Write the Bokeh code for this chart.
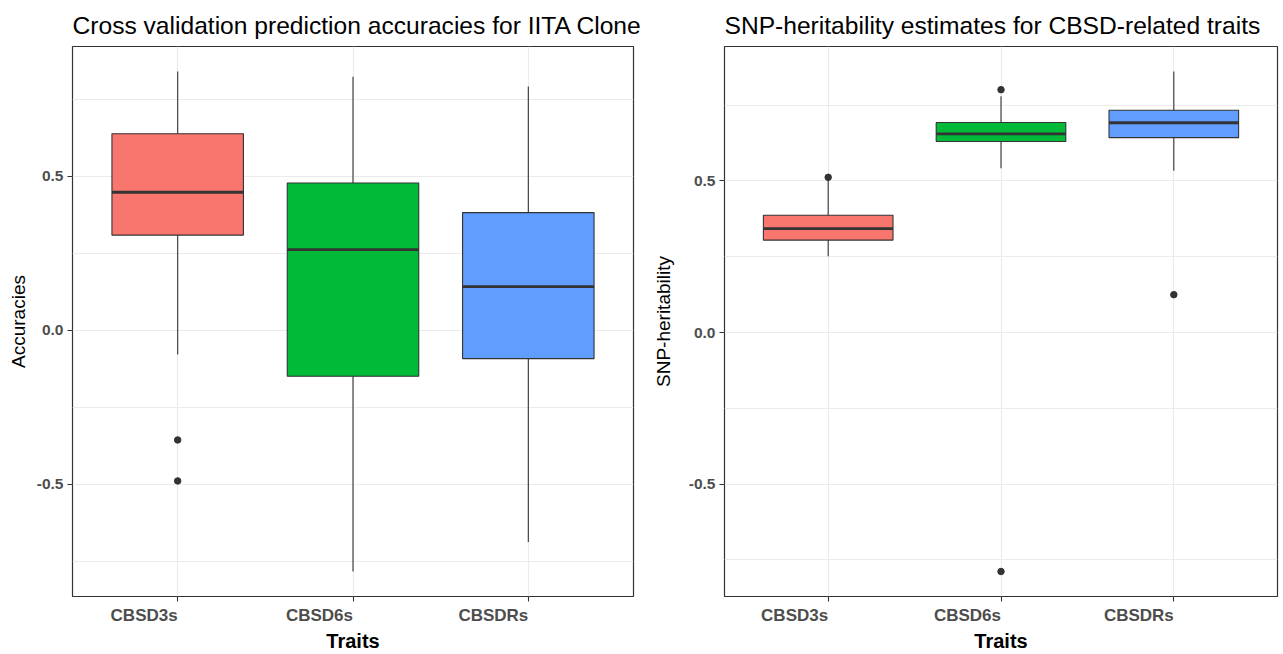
import numpy as np
from bokeh.plotting import figure
from bokeh.layouts import row
from bokeh.models import Range1d, FixedTicker, PrintfTickFormatter
from bokeh.embed import file_html
from bokeh.resources import INLINE

traits = ["CBSD3s", "CBSD6s", "CBSDRs"]
fills = ["#F8766D", "#00BA38", "#619CFF"]

# Cross-validation accuracies (box-plot summaries per trait)
acc_lower = [-0.079, -0.783, -0.687]
acc_q1 = [0.309, -0.149, -0.092]
acc_median = [0.448, 0.262, 0.142]
acc_q3 = [0.638, 0.478, 0.382]
acc_upper = [0.840, 0.823, 0.791]
acc_out_trait = ["CBSD3s", "CBSD3s"]
acc_out_value = [-0.356, -0.489]

# SNP-heritability estimates (box-plot summaries per trait)
h2_lower = [0.252, 0.542, 0.534]
h2_q1 = [0.305, 0.630, 0.643]
h2_median = [0.343, 0.655, 0.692]
h2_q3 = [0.387, 0.693, 0.733]
h2_upper = [0.503, 0.779, 0.861]
h2_out_trait = ["CBSD3s", "CBSD6s", "CBSD6s", "CBSDRs"]
h2_out_value = [0.512, 0.801, -0.788, 0.125]

y_ticks = [-0.5, 0.0, 0.5]
y_minor = [-0.75, -0.25, 0.25, 0.75]

FONT = "Liberation Sans"
INK = "#333333"
GRID = "#EBEBEB"
BOX_WIDTH = 0.75


def box_panel(title, ylabel, lower, q1, med, q3, upper, out_trait, out_value,
              width, border_left, border_right, label_gap):
    xs = np.arange(1, len(traits) + 1, dtype=float)
    lo = min(min(lower), min(out_value))
    hi = max(max(upper), max(out_value))
    pad = 0.05 * (hi - lo)

    p = figure(width=width, height=654,
               x_range=Range1d(0.4, len(traits) + 0.6),
               y_range=Range1d(lo - pad, hi + pad),
               output_backend="svg", toolbar_location=None,
               min_border_left=border_left, min_border_right=border_right,
               min_border_top=46, min_border_bottom=56)
    p.background_fill_color = "white"
    p.border_fill_color = "white"
    p.outline_line_color = INK
    p.outline_line_width = 1.2

    p.title.text = title
    p.title.text_font = FONT
    p.title.text_font_size = "24.6px"
    p.title.text_font_style = "normal"
    p.title.text_color = "black"
    p.title.align = "left"
    p.title.standoff = 15

    # grid
    p.xgrid.ticker = FixedTicker(ticks=list(xs))
    p.xgrid.grid_line_color = GRID
    p.xgrid.grid_line_width = 1.2
    p.ygrid.ticker = FixedTicker(ticks=y_ticks, minor_ticks=y_minor)
    p.ygrid.grid_line_color = GRID
    p.ygrid.grid_line_width = 1.2
    p.ygrid.minor_grid_line_color = GRID
    p.ygrid.minor_grid_line_width = 1.0

    # x axis: trait names end at their tick
    xa = p.xaxis[0]
    xa.ticker = FixedTicker(ticks=list(xs))
    xa.major_label_overrides = {int(x): t for x, t in zip(xs, traits)}
    xa.major_label_orientation = 0.0001
    xa.axis_label = "Traits"
    xa.axis_label_text_font = FONT
    xa.axis_label_text_font_size = "20px"
    xa.axis_label_text_font_style = "bold"
    xa.axis_label_text_color = "black"
    xa.axis_label_standoff = -8
    xa.major_label_text_font = FONT
    xa.major_label_text_font_size = "17px"
    xa.major_label_text_font_style = "bold"
    xa.major_label_text_color = "#4D4D4D"
    xa.major_label_standoff = 14

    # y axis
    ya = p.yaxis[0]
    ya.ticker = FixedTicker(ticks=y_ticks, minor_ticks=y_minor)
    ya.formatter = PrintfTickFormatter(format="%.1f")
    ya.axis_label = ylabel
    ya.axis_label_text_font = FONT
    ya.axis_label_text_font_size = "19px"
    ya.axis_label_text_font_style = "normal"
    ya.axis_label_text_color = "black"
    ya.axis_label_standoff = label_gap
    ya.major_label_text_font = FONT
    ya.major_label_text_font_size = "15.5px"
    ya.major_label_text_font_style = "bold"
    ya.major_label_text_color = "#4D4D4D"
    ya.major_label_standoff = 4

    for ax in (xa, ya):
        ax.axis_line_color = None
        ax.major_tick_line_color = INK
        ax.major_tick_line_width = 1.1
        ax.major_tick_out = 5
        ax.major_tick_in = 0
        ax.minor_tick_line_color = None

    half = BOX_WIDTH / 2
    # whiskers
    p.segment(x0=xs, x1=xs, y0=q3, y1=upper, line_color=INK, line_width=1.1)
    p.segment(x0=xs, x1=xs, y0=q1, y1=lower, line_color=INK, line_width=1.1)
    # boxes
    p.vbar(x=xs, width=BOX_WIDTH, bottom=q1, top=q3, fill_color=fills,
           line_color=INK, line_width=1.1)
    # medians
    p.segment(x0=xs - half, x1=xs + half, y0=med, y1=med,
              line_color=INK, line_width=2.8)
    # outliers
    ox = [traits.index(t) + 1 for t in out_trait]
    p.scatter(x=ox, y=out_value, size=6.5, fill_color=INK, line_color=INK)
    return p


left = box_panel("Cross validation prediction accuracies for IITA Clone", "Accuracies",
                 acc_lower, acc_q1, acc_median, acc_q3, acc_upper,
                 acc_out_trait, acc_out_value,
                 width=645, border_left=72, border_right=12, label_gap=5)
right = box_panel("SNP-heritability estimates for CBSD-related traits", "SNP-heritability",
                  h2_lower, h2_q1, h2_median, h2_q3, h2_upper,
                  h2_out_trait, h2_out_value,
                  width=638, border_left=79, border_right=6, label_gap=12)

layout = row(left, right)
open("out.html", "w").write(file_html(layout, INLINE))
